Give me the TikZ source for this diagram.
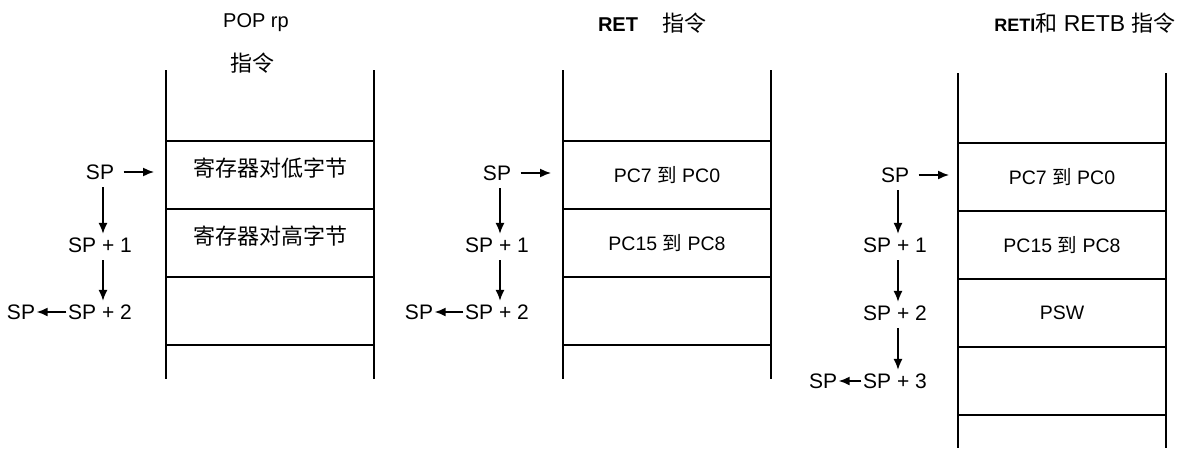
\documentclass[tikz,border=0pt]{standalone}
\usepackage{fontspec}
\setmainfont{Liberation Sans}
\newfontfamily\cjk{Noto Sans CJK SC}
\usetikzlibrary{arrows.meta,positioning}

\begin{document}
\begin{tikzpicture}[
    x=1pt, y=-1pt,
    cell/.style={draw, line width=1.6pt, outer sep=0pt, inner sep=0pt,
                 minimum width=208pt, minimum height=68pt,
                 font=\fontsize{19.5}{22}\selectfont},
    hzcell/.style={cell, text height=16pt, text depth=14pt,
                   font=\cjk\fontsize{22}{24}\selectfont},
    rail/.style={line width=1.6pt},
    sp/.style={font=\fontsize{21}{23}\selectfont, inner sep=1.5pt},
    ttl/.style={font=\fontsize{20}{23}\selectfont, inner sep=1pt},
    ptr/.style={-{Latex[length=11pt,width=9pt]}, line width=1.5pt}
  ]
  \useasboundingbox (0,0) rectangle (1189,448);

  % POP rp
  \node[ttl] (t1) at (256,23) {POP rp};
  \node[ttl, font=\cjk\fontsize{22}{24}\selectfont] (t1b) at (252,63) {指令};
  \node[hzcell] (a1) at (270,175) {寄存器对低字节};
  \node[hzcell, below=0pt of a1] (a2) {寄存器对高字节};
  \node[cell, below=0pt of a2] (a3) {};
  \draw[rail] ([yshift=71pt]a1.north west) -- ([yshift=-34pt]a3.south west);
  \draw[rail] ([yshift=71pt]a1.north east) -- ([yshift=-34pt]a3.south east);
  \node[sp] (ap0) at (100,172) {SP};
  \coordinate (ap0e) at (154,172);
  \node[sp] (ap1) at (100,245) {SP + 1};
  \node[sp] (ap2) at (100,312) {SP + 2};
  \node[sp] (apn) at (21,312) {SP};
  \draw[ptr, shorten <=8pt] (ap0) -- (ap0e);
  \draw[ptr, shorten <=6pt, shorten >=2pt] ([xshift=3pt]ap0.south) -- ([xshift=3pt]ap0.south |- ap1.north);
  \draw[ptr, shorten <=6pt, shorten >=2pt] ([xshift=3pt]ap1.south) -- ([xshift=3pt]ap1.south |- ap2.north);
  \draw[ptr] (ap2) -- (apn);

  % RET
  \node[ttl] (t2) at (652,23) {\textbf{RET}\hspace{24pt}{\cjk\fontsize{22}{24}\selectfont 指令}};
  \node[cell] (b1) at (667,175) {PC7 {\cjk 到} PC0};
  \node[cell, below=0pt of b1] (b2) {PC15 {\cjk 到} PC8};
  \node[cell, below=0pt of b2] (b3) {};
  \draw[rail] ([yshift=71pt]b1.north west) -- ([yshift=-34pt]b3.south west);
  \draw[rail] ([yshift=71pt]b1.north east) -- ([yshift=-34pt]b3.south east);
  \node[sp] (bp0) at (497,173) {SP};
  \coordinate (bp0e) at (551,173);
  \node[sp] (bp1) at (497,245) {SP + 1};
  \node[sp] (bp2) at (497,312) {SP + 2};
  \node[sp] (bpn) at (419,312) {SP};
  \draw[ptr, shorten <=8pt] (bp0) -- (bp0e);
  \draw[ptr, shorten <=6pt, shorten >=2pt] ([xshift=3pt]bp0.south) -- ([xshift=3pt]bp0.south |- bp1.north);
  \draw[ptr, shorten <=6pt, shorten >=2pt] ([xshift=3pt]bp1.south) -- ([xshift=3pt]bp1.south |- bp2.north);
  \draw[ptr] (bp2) -- (bpn);

  % RETI / RETB
  \node[ttl] (t3) at (1085,23) {{\bfseries\fontsize{18}{20}\selectfont RETI}{\cjk\fontsize{22}{24}\selectfont 和}\fontsize{23}{25}\selectfont\ RETB {\cjk\fontsize{22}{24}\selectfont 指令}};
  \node[cell] (c1) at (1062,177) {PC7 {\cjk 到} PC0};
  \node[cell, below=0pt of c1] (c2) {PC15 {\cjk 到} PC8};
  \node[cell, below=0pt of c2] (c3) {PSW};
  \node[cell, below=0pt of c3] (c4) {};
  \draw[rail] ([yshift=70pt]c1.north west) -- ([yshift=-33pt]c4.south west);
  \draw[rail] ([yshift=70pt]c1.north east) -- ([yshift=-33pt]c4.south east);
  \node[sp] (cp0) at (895,175) {SP};
  \coordinate (cp0e) at (949,175);
  \node[sp] (cp1) at (895,245) {SP + 1};
  \node[sp] (cp2) at (895,313) {SP + 2};
  \node[sp] (cp3) at (895,381) {SP + 3};
  \node[sp] (cpn) at (823,381) {SP};
  \draw[ptr, shorten <=8pt] (cp0) -- (cp0e);
  \draw[ptr, shorten <=6pt, shorten >=2pt] ([xshift=3pt]cp0.south) -- ([xshift=3pt]cp0.south |- cp1.north);
  \draw[ptr, shorten <=6pt, shorten >=2pt] ([xshift=3pt]cp1.south) -- ([xshift=3pt]cp1.south |- cp2.north);
  \draw[ptr, shorten <=6pt, shorten >=2pt] ([xshift=3pt]cp2.south) -- ([xshift=3pt]cp2.south |- cp3.north);
  \draw[ptr] (cp3) -- (cpn);
\end{tikzpicture}
\end{document}
